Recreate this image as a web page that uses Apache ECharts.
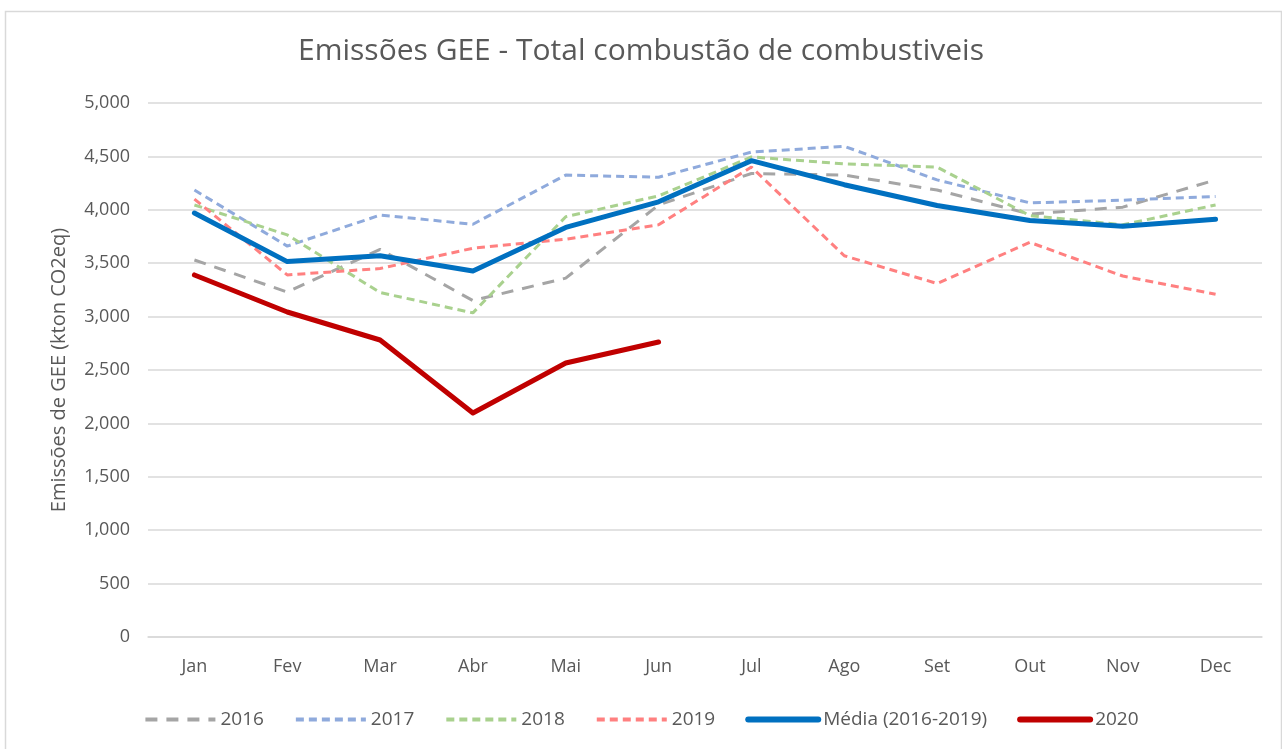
<!DOCTYPE html>
<html>
<head>
<meta charset="utf-8">
<script src="https://cdn.jsdelivr.net/npm/echarts@6/dist/echarts.min.js"></script>
<style>
  html, body { margin: 0; padding: 0; background: #fff; }
  #chart { width: 1282px; height: 749px; }
</style>
</head>
<body>
<div id="chart"></div>
<script>
// meses
const months = ['Jan', 'Fev', 'Mar', 'Abr', 'Mai', 'Jun', 'Jul', 'Ago', 'Set', 'Out', 'Nov', 'Dec']
// valores (kton CO2eq)
const y2016 = [3530, 3230, 3630, 3150, 3360, 4045, 4340, 4325, 4185, 3960, 4025, 4280]
const y2017 = [4185, 3660, 3950, 3865, 4325, 4305, 4540, 4595, 4280, 4065, 4090, 4125]
const y2018 = [4045, 3765, 3225, 3035, 3935, 4130, 4495, 4430, 4400, 3945, 3860, 4045]
const y2019 = [4100, 3390, 3450, 3640, 3725, 3860, 4400, 3570, 3310, 3695, 3380, 3210]
const media = [3970, 3515, 3570, 3427, 3835, 4075, 4460, 4235, 4040, 3900, 3845, 3912]
const y2020 = [3390, 3043, 2781, 2097, 2566, 2762]
const yTicks = { min: 0, max: 5000, interval: 500 }

const chart = echarts.init(document.getElementById('chart'))
const font = 'Open Sans'
const txt = '#595959'

function dashed(name, data, color, dash) {
    return {
        name: name, type: 'line', data: data,
        showSymbol: false, symbol: 'none',
        itemStyle: { color: color },
        lineStyle: { color: color, width: 3, type: dash },
        z: 2
    }
}
function solid(name, data, color) {
    return {
        name: name, type: 'line', data: data,
        showSymbol: false, symbol: 'none',
        itemStyle: { color: color },
        lineStyle: { color: color, width: 5, cap: 'round', join: 'round' },
        z: 3
    }
}

chart.setOption({
    animation: false,
    backgroundColor: '#fff',
    graphic: [{
        type: 'rect', left: 3, top: 9, silent: true,
        shape: { width: 1276, height: 740 },
        style: { fill: 'none', stroke: '#d9d9d9', lineWidth: 1.5 }
    }],
    title: {
        text: 'Emissões GEE - Total combustão de combustiveis',
        left: 'center', top: 31,
        textStyle: { fontFamily: font, fontSize: 30, fontWeight: 'normal', color: txt }
    },
    grid: { left: 148, right: 20, top: 103, bottom: 112 },
    legend: {
        bottom: 15, left: 'center',
        itemWidth: 70, itemHeight: 12, itemGap: 30,
        itemStyle: { opacity: 0 },
        textStyle: { fontFamily: font, fontSize: 19, color: txt },
        data: [
            { name: '2016', lineStyle: { width: 4 } },
            { name: '2017', lineStyle: { width: 4 } },
            { name: '2018', lineStyle: { width: 4 } },
            { name: '2019', lineStyle: { width: 4 } },
            { name: 'Média (2016-2019)', lineStyle: { width: 6 } },
            { name: '2020', lineStyle: { width: 6 } }
        ]
    },
    xAxis: {
        type: 'category', data: months, boundaryGap: true,
        axisLine: { lineStyle: { color: '#d9d9d9', width: 1.5 } },
        axisTick: { show: false },
        axisLabel: { fontFamily: font, fontSize: 18, color: txt, margin: 21 }
    },
    yAxis: {
        type: 'value', min: yTicks.min, max: yTicks.max, interval: yTicks.interval,
        name: 'Emissões de GEE (kton CO2eq)', nameLocation: 'middle', nameGap: 79,
        nameTextStyle: { fontFamily: font, fontSize: 20, color: txt },
        axisLine: { show: false }, axisTick: { show: false },
        splitLine: { lineStyle: { color: '#d9d9d9', width: 1.5 } },
        axisLabel: {
            fontFamily: font, fontSize: 18, color: txt, margin: 18,
            formatter: v => v.toLocaleString('en-US')
        }
    },
    series: [
        dashed('2016', y2016, '#a5a5a5', [12, 9]),
        dashed('2017', y2017, '#8faadc', [8, 5]),
        dashed('2018', y2018, '#a9d18e', [8, 5]),
        dashed('2019', y2019, '#ff8080', [8, 5]),
        solid('Média (2016-2019)', media, '#0070c0'),
        solid('2020', y2020, '#c00000')
    ]
})
</script>
</body>
</html>
